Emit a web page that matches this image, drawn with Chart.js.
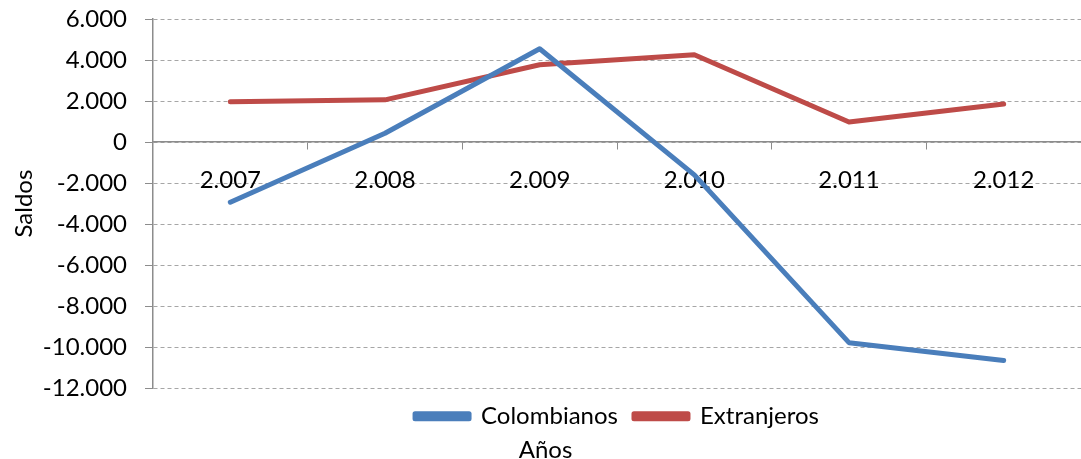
<!DOCTYPE html>
<html>
<head>
<meta charset="utf-8">
<script src="https://cdn.jsdelivr.net/npm/chart.js@4"></script>
<style>
  html, body { margin: 0; padding: 0; background: #fff; }
  #wrap { width: 1081px; height: 459px; }
</style>
</head>
<body>
<div id="wrap"><canvas id="saldosChart"></canvas></div>
<script>
// Datos
var years = ['2.007', '2.008', '2.009', '2.010', '2.011', '2.012'];
var colombianos = [-2930, 430, 4550, -1600, -9780, -10650];
var extranjeros = [1960, 2060, 3770, 4260, 980, 1860];
var yTicks = [-12000, -10000, -8000, -6000, -4000, -2000, 0, 2000, 4000, 6000];

document.addEventListener('DOMContentLoaded', function() {

    // 2000 -> "2.000"
    function formatNumber(v) {
        var s = Math.abs(v).toString().replace(/\B(?=(\d{3})+(?!\d))/g, '.');
        return (v < 0 ? '-' : '') + s;
    }

    var fontName = 'Lato, "Open Sans", sans-serif';

    var ctx = document.getElementById('saldosChart').getContext('2d');
    var chart = new Chart(ctx, {
        type: 'line',
        data: {
            labels: years,
            datasets: [
                {
                    label: 'Colombianos',
                    data: colombianos,
                    borderColor: '#4a7ebb',
                    backgroundColor: '#4a7ebb',
                    borderWidth: 5,
                    pointRadius: 0,
                    tension: 0,
                    borderCapStyle: 'round',
                    borderJoinStyle: 'round'
                },
                {
                    label: 'Extranjeros',
                    data: extranjeros,
                    borderColor: '#be4b48',
                    backgroundColor: '#be4b48',
                    borderWidth: 5,
                    pointRadius: 0,
                    tension: 0,
                    borderCapStyle: 'round',
                    borderJoinStyle: 'round'
                }
            ]
        },
        options: {
            responsive: true,
            maintainAspectRatio: false,
            animation: false,
            layout: { padding: { top: 19, right: 0, left: 10, bottom: 0 } },
            plugins: {
                tooltip: { enabled: false },
                legend: {
                    position: 'bottom',
                    fullSize: false,
                    labels: {
                        boxWidth: 54,
                        boxHeight: 5,
                        padding: 16,
                        color: '#000',
                        font: { family: fontName, size: 24 }
                    }
                },
                title: {
                    display: true,
                    position: 'bottom',
                    text: 'Años',
                    color: '#000',
                    padding: { top: -2, bottom: -6 },
                    font: { family: fontName, size: 24, weight: 'normal' }
                }
            },
            scales: {
                x: {
                    position: { y: 0 },
                    offset: true,
                    grid: {
                        offset: true,
                        drawOnChartArea: false,
                        drawTicks: true,
                        tickLength: 7,
                        color: '#8c8c8c'
                    },
                    border: { display: true, color: '#8c8c8c', width: 1.5 },
                    ticks: {
                        padding: 17,
                        color: '#000',
                        maxRotation: 0,
                        font: { family: fontName, size: 24 }
                    }
                },
                y: {
                    min: -12000,
                    max: 6000,
                    afterBuildTicks: function(scale) {
                        scale.ticks = yTicks.map(function(v) { return { value: v }; });
                    },
                    // ancho fijo del eje, sin relleno extra arriba/abajo
                    afterFit: function(scale) {
                        scale.width = 143;
                        scale.paddingTop = 0;
                        scale.paddingBottom = 0;
                    },
                    grid: {
                        color: '#a6a6a6',
                        tickColor: '#8c8c8c',
                        tickLength: 8,
                        drawTicks: true
                    },
                    border: { display: true, color: '#8c8c8c', width: 1.5, dash: [4, 3] },
                    ticks: {
                        padding: 18,
                        color: '#000',
                        font: { family: fontName, size: 24 },
                        callback: function(value) { return formatNumber(value); }
                    },
                    title: {
                        display: true,
                        text: 'Saldos',
                        color: '#000',
                        padding: { top: 0, bottom: 0 },
                        font: { family: fontName, size: 24 }
                    }
                }
            }
        }
    });
});
</script>
</body>
</html>
